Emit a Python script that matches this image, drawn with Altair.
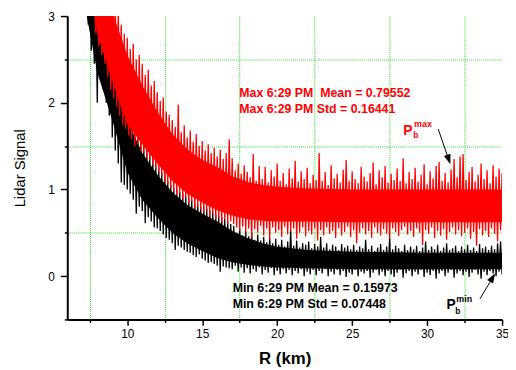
import altair as alt
import pandas as pd

# ---------------- data ----------------
STEP = 0.1          # km between samples
BLACK_START = 7.3   # first sample of the "Min" profile (km)
RED_START = 7.8     # first sample of the "Max" profile (km)

BLACK_SIGNAL = [
    3.4, 2.9, 3.5, 2.6, 3.4, 2.45, 3.3,
    2.0, 3.3, 2.3, 3.2, 2.15, 3.1, 2.0, 3.0, 1.85, 2.9,
    1.6, 2.6, 1.45, 2.5, 1.3, 2.3, 1.08, 2.1, 1.05, 1.95,
    1.0, 1.85, 0.95, 1.8, 0.88, 1.7, 0.72, 1.65, 0.8, 1.55,
    0.75, 1.5, 0.61, 1.45, 0.68, 1.4, 0.63, 1.35, 0.56, 1.3,
    0.55, 1.25, 0.52, 1.2, 0.48, 1.15, 0.44, 1.1, 0.42, 1.05,
    0.38, 1.02, 0.3, 1.0, 0.35, 0.97, 0.33, 0.95, 0.3, 0.92,
    0.28, 0.9, 0.27, 0.88, 0.24, 0.85, 0.22, 0.83, 0.25, 0.8,
    0.2, 0.8, 0.18, 0.78, 0.15, 0.76, 0.16, 0.74, 0.14, 0.72,
    0.12, 0.7, 0.05, 0.68, 0.11, 0.66, 0.1, 0.63, 0.09, 0.6,
    0.08, 0.58, 0.12, 0.5, 0.05, 0.55, 0.1, 0.47, 0.04, 0.52,
    0.09, 0.46, 0.03, 0.5, 0.08, 0.42, 0.05, 0.48, 0.1, 0.41,
    0.02, 0.45, 0.07, 0.39, 0.04, 0.44, 0.09, 0.38, 0.01, 0.43,
    0.06, 0.36, 0.02, 0.42, 0.08, 0.34, 0.03, 0.4, 0.07, 0.53,
    0.01, 0.35, 0.06, 0.41, 0.03, 0.33, 0.08, 0.38, 0.0, 0.36,
    0.05, 0.4, 0.02, 0.32, 0.07, 0.37, 0.01, 0.34, 0.06, 0.45,
    0.03, 0.33, 0.08, 0.38, 0.0, 0.31, 0.05, 0.36, 0.02, 0.34,
    0.07, 0.3, 0.01, 0.37, 0.06, 0.33, -0.01, 0.35, 0.04, 0.31,
    0.02, 0.36, 0.07, 0.3, 0.0, 0.34, 0.05, 0.32, 0.03, 0.42,
    0.06, 0.31, -0.02, 0.35, 0.04, 0.29, 0.07, 0.33, 0.01, 0.37,
    0.05, 0.3, 0.0, 0.34, 0.06, 0.44, 0.02, 0.31, -0.01, 0.35,
    0.04, 0.32, 0.07, 0.29, -0.02, 0.36, 0.03, 0.3, 0.06, 0.34,
    0.0, 0.31, 0.05, 0.35, 0.02, 0.29, 0.07, 0.33, -0.01, 0.4,
    0.04, 0.3, 0.01, 0.34, 0.06, 0.31, -0.03, 0.36, 0.03, 0.29,
    0.06, 0.33, 0.0, 0.38, 0.04, 0.3, 0.07, 0.32, -0.02, 0.35,
    0.03, 0.29, 0.06, 0.34, 0.01, 0.31, 0.05, 0.36, -0.01, 0.3,
    0.04, 0.33, 0.07, 0.29, 0.02, 0.37, -0.03, 0.32, 0.05, 0.34,
    0.01, 0.3, 0.06, 0.35, 0.03, 0.31, 0.0, 0.38, 0.05, 0.4,
    0.02,
]

RED_SIGNAL = [
    3.4, 2.8,
    3.5, 2.65, 3.5, 2.55, 3.4, 2.45, 3.4, 2.3, 3.3, 2.15,
    3.3, 2.05, 3.15, 1.95, 3.05, 1.85, 2.9, 1.75, 2.8, 1.7,
    2.75, 1.62, 2.62, 1.58, 2.68, 1.5, 2.5, 1.52, 2.55, 1.44,
    2.45, 1.42, 2.32, 1.36, 2.38, 1.34, 2.2, 1.28, 2.25, 1.24,
    2.12, 1.2, 2.02, 1.16, 2.06, 1.08, 1.9, 1.06, 1.86, 1.02,
    1.8, 0.98, 1.72, 0.93, 1.98, 0.95, 1.66, 0.88, 1.74, 0.9,
    1.6, 0.84, 1.68, 0.86, 1.55, 0.78, 1.64, 0.8, 1.5, 0.77,
    1.56, 0.74, 1.45, 0.76, 1.52, 0.69, 1.42, 0.72, 1.48, 0.66,
    1.38, 0.67, 1.46, 0.63, 1.35, 0.66, 1.42, 0.6, 1.58, 0.63,
    1.36, 0.6, 1.22, 0.56, 1.3, 0.52, 1.18, 0.57, 1.28, 0.5,
    1.2, 0.55, 1.14, 0.44, 1.41, 0.54, 1.1, 0.5, 1.27, 0.58,
    1.12, 0.47, 1.26, 0.55, 1.08, 0.42, 1.22, 0.56, 1.15, 0.5,
    1.3, 0.53, 1.1, 0.45, 1.19, 0.57, 1.06, 0.48, 1.24, 0.52,
    1.13, 0.55, 1.33, 0.43, 1.09, 0.5, 1.21, 0.56, 1.12, 0.46,
    1.25, 0.52, 1.07, 0.48, 1.17, 0.55, 1.11, 0.41, 1.42, 0.53,
    1.1, 0.47, 1.2, 0.56, 1.05, 0.49, 1.28, 0.52, 1.13, 0.44,
    1.18, 0.55, 1.08, 0.47, 1.23, 0.51, 1.34, 0.57, 1.1, 0.45,
    1.21, 0.53, 1.12, 0.38, 1.07, 0.5, 1.26, 0.55, 1.15, 0.48,
    1.09, 0.52, 1.19, 0.44, 1.31, 0.56, 1.06, 0.5, 1.22, 0.47,
    1.14, 0.54, 1.27, 0.49, 1.08, 0.43, 1.18, 0.55, 1.11, 0.51,
    1.24, 0.46, 1.1, 0.53, 1.36, 0.57, 1.07, 0.48, 1.2, 0.52,
    1.12, 0.45, 1.25, 0.55, 1.09, 0.5, 1.17, 0.36, 1.29, 0.53,
    1.06, 0.49, 1.21, 0.56, 1.13, 0.44, 1.27, 0.52, 1.32, 0.47,
    1.1, 0.54, 1.19, 0.42, 1.08, 0.51, 1.23, 0.56, 1.35, 0.48,
    1.14, 0.53, 1.38, 0.46, 1.41, 0.5, 1.11, 0.55, 1.2, 0.43,
    1.26, 0.51, 1.09, 0.35, 1.17, 0.54, 1.3, 0.47, 1.12, 0.52,
    1.22, 0.45, 1.07, 0.55, 1.28, 0.49, 1.15, 0.4, 1.24, 0.53,
    1.19,
]

# dense (solid) core of each noisy trace, read per km
CORE_R_BLACK = [7.3, 8, 9, 10, 11, 12, 13, 14, 15, 16, 17, 18, 19, 20, 22, 25, 30, 35]
CORE_LO_BLACK = [3.0, 2.35, 1.8, 1.2, 0.88, 0.68, 0.5, 0.38, 0.29, 0.21, 0.16, 0.13,
                 0.11, 0.1, 0.09, 0.08, 0.08, 0.08]
CORE_HI_BLACK = [3.5, 3.4, 2.5, 1.8, 1.42, 1.17, 0.97, 0.82, 0.72, 0.63, 0.52, 0.44,
                 0.38, 0.34, 0.3, 0.28, 0.27, 0.27]
CORE_R_RED = [7.8, 8, 9, 10, 11, 12, 13, 14, 15, 16, 17, 18, 19, 20, 22, 25, 30, 35]
CORE_LO_RED = [3.0, 2.8, 2.25, 1.75, 1.52, 1.3, 1.1, 0.95, 0.85, 0.76, 0.7, 0.66,
               0.64, 0.63, 0.63, 0.62, 0.62, 0.62]
CORE_HI_RED = [3.5, 3.5, 3.05, 2.55, 2.2, 1.9, 1.64, 1.46, 1.34, 1.26, 1.15, 1.09,
               1.05, 1.03, 1.01, 1.0, 1.0, 1.0]

X_MAJOR = [10, 15, 20, 25, 30, 35]
X_MINOR = [7.5, 12.5, 17.5, 22.5, 27.5, 32.5]
Y_MAJOR = [0, 1, 2, 3]
Y_MINOR = [-0.5, 0.5, 1.5, 2.5]

# annotations (anchored in data units)
ANN_TEXT = ["Max 6:29 PM\u00a0 Mean = 0.79552", "Max 6:29 PM Std = 0.16441",
            "Min 6:29 PM Mean = 0.15973", "Min 6:29 PM Std = 0.07448",
            "P", "b", "max", "P", "b", "min"]
ANN_R = [17.47, 17.47, 17.03, 17.03, 28.41, 29.07, 29.13, 31.29, 31.88, 31.95]
ANN_S = [2.069, 1.886, -0.178, -0.363, 1.632, 1.59, 1.715, -0.383, -0.44, -0.298]
ANN_COLOR = ["#ff0000", "#ff0000", "#000000", "#000000",
             "#ff0000", "#ff0000", "#ff0000", "#000000", "#000000", "#000000"]
ANN_SIZE = [12.5, 12.5, 12.5, 12.5, 14, 8.5, 9, 14, 8.5, 9]

ARROW_R = [30.74, 33.53]
ARROW_S = [1.697, -0.261]
ARROW_R2 = [31.445, 34.371]
ARROW_S2 = [1.3436, -0.0168]
ARROW_ANGLE = [161, 31]

# ---------------- tables ----------------
def frame(vals, start):
    return pd.DataFrame({"R": [round(start + i * STEP, 3) for i in range(len(vals))],
                         "S": vals})

black_df = frame(BLACK_SIGNAL, BLACK_START)
red_df = frame(RED_SIGNAL, RED_START)
black_core = pd.DataFrame({"R": CORE_R_BLACK, "S": CORE_LO_BLACK, "S2": CORE_HI_BLACK})
red_core = pd.DataFrame({"R": CORE_R_RED, "S": CORE_LO_RED, "S2": CORE_HI_RED})
ann_df = pd.DataFrame({"R": ANN_R, "S": ANN_S, "t": ANN_TEXT, "c": ANN_COLOR, "sz": ANN_SIZE})
arrow_df = pd.DataFrame({"R": ARROW_R, "S": ARROW_S, "R2": ARROW_R2, "S2": ARROW_S2})
head_df = pd.DataFrame({"R": ARROW_R2, "S": ARROW_S2, "ang": ARROW_ANGLE})

FONT = "Liberation Sans"
GRID = "#22dd22"

xscale = alt.Scale(domain=[6, 35], nice=False, zero=False)
yscale = alt.Scale(domain=[-0.5, 3], nice=False, zero=False)

x_major = alt.Axis(
    values=X_MAJOR, title="R (km)", orient="bottom", format="d",
    tickSize=6, grid=False,
    domainColor="black", domainWidth=2, tickColor="black", tickWidth=1.5,
    labelFont=FONT, labelFontSize=12, labelColor="black", labelPadding=3,
    labelFlush=False, labelOverlap=False,
    titleFont=FONT, titleFontSize=17, titleFontWeight="bold", titleColor="black",
    titlePadding=12,
)
x_minor = alt.Axis(
    values=X_MINOR, title=None, orient="bottom", labels=False, domain=False,
    tickSize=3, tickColor="black", tickWidth=1.5,
    grid=True, gridColor=GRID, gridDash=[1, 1], gridWidth=1,
)
y_major = alt.Axis(
    values=Y_MAJOR, title="Lidar Signal", orient="left", format="d",
    tickSize=7, grid=False,
    domainColor="black", domainWidth=2, tickColor="black", tickWidth=1.5,
    labelFont=FONT, labelFontSize=12, labelColor="black", labelPadding=6,
    labelFlush=False, labelOverlap=False,
    titleFont=FONT, titleFontSize=15, titleFontWeight="normal", titleColor="black",
    titlePadding=21,
)
y_minor = alt.Axis(
    values=Y_MINOR, title=None, orient="left", labels=False, domain=False,
    tickSize=3, tickColor="black", tickWidth=1.5,
    grid=True, gridColor=GRID, gridDash=[1, 1], gridWidth=1,
    gridOpacity={"condition": {"test": "datum.value > -0.5", "value": 1}, "value": 0},
)

def X(axis=None):
    return alt.X("R:Q", scale=xscale, axis=axis)

def Y(axis=None):
    return alt.Y("S:Q", scale=yscale, axis=axis)

black_band = alt.Chart(black_core).mark_area(color="#000000", clip=True).encode(
    x=X(), y=Y(), y2="S2:Q")
black_line = alt.Chart(black_df).mark_line(color="#000000", strokeWidth=1.3, clip=True).encode(
    x=X(x_major), y=Y(y_major))
red_band = alt.Chart(red_core).mark_area(color="#ff0000", clip=True).encode(
    x=X(), y=Y(), y2="S2:Q")
red_line = alt.Chart(red_df).mark_line(color="#ff0000", strokeWidth=1.3, clip=True).encode(
    x=X(x_minor), y=Y(y_minor))
texts = alt.Chart(ann_df).mark_text(
    font=FONT, fontWeight="bold", align="left", baseline="alphabetic"
).encode(
    x=X(), y=Y(), text="t:N",
    color=alt.Color("c:N", scale=None),
    size=alt.Size("sz:Q", scale=None),
)
rules = alt.Chart(arrow_df).mark_rule(color="black", strokeWidth=1).encode(
    x=X(), y=Y(), x2="R2:Q", y2="S2:Q"
)
heads = alt.Chart(head_df).mark_point(
    shape="M0,-1L0.7,1L-0.7,1Z", filled=True, size=100, color="black", opacity=1,
    strokeWidth=0,
).encode(
    x=X(), y=Y(), angle=alt.Angle("ang:Q", scale=None)
)

chart = alt.layer(black_band, black_line, red_band, red_line, texts, rules, heads).resolve_scale(
    x="shared", y="shared"
).resolve_axis(
    x="independent", y="independent"
).properties(
    width=440, height=307,
    autosize=alt.AutoSizeParams(type="none"),
    padding={"left": 60, "top": 6, "right": 6, "bottom": 50},
    background="white",
).configure_view(stroke=None)

chart.save("out.html", embed_options={"renderer": "svg", "actions": False})
